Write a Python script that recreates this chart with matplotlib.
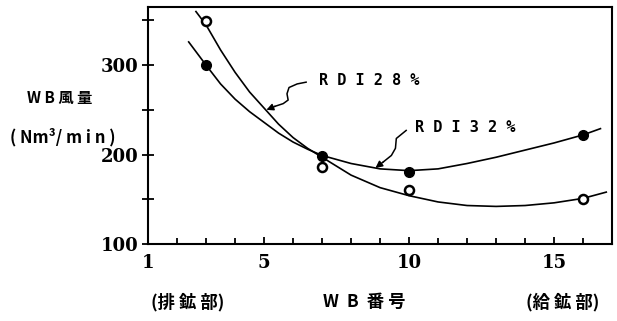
import numpy as np
import matplotlib.pyplot as plt
from matplotlib.ticker import MultipleLocator

plt.rcParams['font.family'] = ['Noto Sans CJK JP', 'DejaVu Sans']

# measured points (WB number vs WB air volume)
wb_no = [3, 7, 10, 16]
rdi28_pts = [349, 186, 160, 150]   # open circles
rdi32_pts = [300, 198, 181, 222]   # filled circles

# hand drawn trend lines
rdi28_x = [2.65, 3.0, 3.5, 4.0, 4.5, 5.0, 5.5, 6.0, 6.5, 7.0, 8.0, 9.0, 10.0,
           11.0, 12.0, 13.0, 14.0, 15.0, 16.0, 16.8]
rdi28_y = [360, 345, 317, 292, 270, 252, 234, 219, 207, 197, 177, 163, 154,
           147, 143, 142, 143, 146, 151, 158]
rdi32_x = [2.4, 3.0, 3.5, 4.0, 4.5, 5.0, 5.5, 6.0, 6.5, 7.0, 8.0, 9.0, 10.0,
           11.0, 12.0, 13.0, 14.0, 15.0, 16.0, 16.6]
rdi32_y = [326, 300, 279, 262, 248, 236, 224, 214, 206, 199, 190, 184, 182,
           184, 190, 197, 205, 213, 222, 229]

# wavy leader lines for the labels
lead28_x = [6.45, 6.14, 5.86, 5.79, 5.83, 5.66, 5.38]
lead28_y = [281, 279, 275, 268, 261, 257, 254]
lead32_x = [9.9, 9.56, 9.53, 9.39, 9.12]
lead32_y = [227, 218, 207, 199, 192]

fig = plt.figure(figsize=(6.17, 3.21), dpi=100)
ax = fig.add_axes([0.24, 0.24, 0.752, 0.738])

lw = 1.2
ax.plot(rdi28_x, rdi28_y, color='black', lw=lw)
ax.plot(rdi32_x, rdi32_y, color='black', lw=lw)
ax.plot(wb_no, rdi28_pts, 'o', ms=6.5, mfc='white', mec='black', mew=1.8)
ax.plot(wb_no, rdi32_pts, 'o', ms=7, mfc='black', mec='black')

ax.plot(lead28_x, lead28_y, color='black', lw=1.1)
ax.annotate('', xy=(5.08, 250), xytext=(lead28_x[-1], lead28_y[-1]),
            arrowprops=dict(arrowstyle='-|>', color='black', lw=1.1,
                            mutation_scale=10, shrinkA=0, shrinkB=0))
ax.plot(lead32_x, lead32_y, color='black', lw=1.1)
ax.annotate('', xy=(8.84, 185), xytext=(lead32_x[-1], lead32_y[-1]),
            arrowprops=dict(arrowstyle='-|>', color='black', lw=1.1,
                            mutation_scale=10, shrinkA=0, shrinkB=0))

ax.text(6.9, 283, 'R D I 2 8 %', fontsize=11, fontweight='bold',
        family='DejaVu Sans Mono', va='center', ha='left')
ax.text(10.2, 230, 'R D I 3 2 %', fontsize=11, fontweight='bold',
        family='DejaVu Sans Mono', va='center', ha='left')

ax.set_xlim(1, 17)
ax.set_ylim(100, 365)
ax.set_xticks([1, 5, 10, 15])
ax.xaxis.set_minor_locator(MultipleLocator(1))
ax.set_yticks([100, 200, 300])
ax.yaxis.set_minor_locator(MultipleLocator(50))
ax.tick_params(axis='x', which='both', direction='in', length=5, width=1.3,
               pad=7, labelsize=13)
ax.tick_params(axis='x', which='minor', length=4)
ax.tick_params(axis='y', which='both', direction='inout', length=8, width=1.3,
               pad=3, labelsize=13)
for lab in ax.get_xticklabels() + ax.get_yticklabels():
    lab.set_fontweight('bold')
    lab.set_family('DejaVu Serif')
for s in ax.spines.values():
    s.set_linewidth(1.5)

fig.text(60 / 617, 1 - 98 / 321, 'W B 風 量', fontsize=11, fontweight='bold',
         ha='center', va='center')
fig.text(63 / 617, 1 - 137 / 321, '( Nm³/ m i n )', fontsize=12, fontweight='bold',
         ha='center', va='center')
fig.text(188 / 617, 1 - 302 / 321, '(排 鉱 部)', fontsize=12.5, fontweight='bold',
         ha='center', va='center')
fig.text(364 / 617, 1 - 302 / 321, 'W  B  番 号', fontsize=12.5, fontweight='bold',
         ha='center', va='center')
fig.text(563 / 617, 1 - 302 / 321, '(給 鉱 部)', fontsize=12.5, fontweight='bold',
         ha='center', va='center')

fig.savefig('out.png', dpi=100)
